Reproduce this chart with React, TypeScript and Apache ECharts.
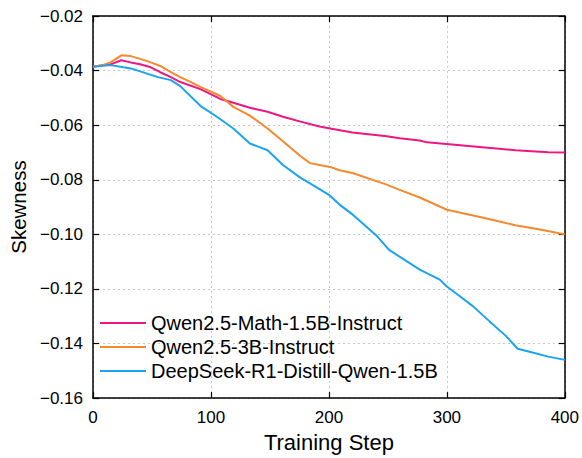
import React, { useEffect, useRef } from "react";
import * as echarts from "echarts";

const seriesNames = [
  "Qwen2.5-Math-1.5B-Instruct",
  "Qwen2.5-3B-Instruct",
  "DeepSeek-R1-Distill-Qwen-1.5B",
];

const mathData: [number, number][] = [
  [0, -0.0386], [8, -0.038], [15, -0.0377], [24, -0.0362], [32, -0.037],
  [40, -0.0377], [49, -0.0388], [57, -0.0406], [66, -0.0424], [74, -0.0442],
  [91, -0.0468], [108, -0.0504], [119, -0.0518], [133, -0.0536], [148, -0.0551],
  [161, -0.0569], [176, -0.0587], [192, -0.0605], [201, -0.0612], [220, -0.0627],
  [249, -0.0641], [260, -0.0648], [277, -0.0656], [283, -0.0663], [302, -0.067],
  [330, -0.0681], [358, -0.0692], [386, -0.0699], [400, -0.07],
];

const qwen3bData: [number, number][] = [
  [0, -0.0386], [8, -0.038], [15, -0.037], [24, -0.0344], [32, -0.0347],
  [40, -0.0357], [49, -0.037], [57, -0.0383], [66, -0.0406], [74, -0.0424],
  [83, -0.0442], [91, -0.046], [108, -0.0493], [119, -0.0533], [133, -0.0565],
  [148, -0.0612], [161, -0.0659], [176, -0.0714], [184, -0.0739], [192, -0.0746],
  [201, -0.0753], [209, -0.0765], [220, -0.0775], [249, -0.0818], [260, -0.0837],
  [277, -0.0865], [300, -0.091], [330, -0.0938], [358, -0.0967], [378, -0.0981],
  [395, -0.0996], [400, -0.1],
];

const distillData: [number, number][] = [
  [0, -0.0386], [15, -0.038], [32, -0.0392], [40, -0.0403], [55, -0.0424],
  [66, -0.0435], [74, -0.0457], [91, -0.0529], [105, -0.0569], [119, -0.0612],
  [133, -0.0667], [148, -0.0692], [161, -0.0746], [176, -0.0793], [190, -0.0829],
  [200, -0.0855], [209, -0.0891], [220, -0.0927], [240, -0.1003], [251, -0.1057],
  [277, -0.1129], [294, -0.1166], [300, -0.1191], [311, -0.1227], [322, -0.1263],
  [336, -0.1318], [350, -0.1372], [360, -0.1419], [370, -0.143], [386, -0.1448],
  [400, -0.146],
];

const colors = ["#EE1683", "#F5892F", "#1AA3F2"];
const FONT = "'Liberation Sans', Arial, Helvetica, sans-serif";

export default function App() {
  const ref = useRef<HTMLDivElement>(null);
  useEffect(() => {
    if (!ref.current) return;
    const chart = echarts.init(ref.current, null, { renderer: "svg" });
    const tickStyle = { show: true, inside: true, length: 6, lineStyle: { color: "#000", width: 1.2 } };
    const axisLine = { show: true, onZero: false, lineStyle: { color: "#000", width: 1.5 } };
    const splitLine = { show: true, lineStyle: { color: "#c8c8c8", type: [2, 3] as any, width: 1 } };
    const fmtY = (v: number) => v.toFixed(2).replace("-", "\u2212");
    chart.setOption({
      animation: false,
      textStyle: { fontFamily: FONT },
      grid: { left: 92, right: 16, top: 16, bottom: 55, containLabel: false },
      legend: {
        orient: "vertical",
        left: 100,
        top: 311,
        padding: 0,
        icon: "rect",
        itemWidth: 46,
        itemHeight: 2,
        itemGap: 0,
        data: seriesNames,
        textStyle: { fontSize: 20, color: "#000", fontFamily: FONT, lineHeight: 24 },
      },
      xAxis: [
        {
          type: "value", min: 0, max: 400, interval: 100, position: "bottom",
          axisLine, axisTick: tickStyle, splitLine,
          axisLabel: { fontSize: 17, color: "#000", margin: 11, fontFamily: FONT },
          name: "Training Step", nameLocation: "middle", nameGap: 32,
          nameTextStyle: { fontSize: 22, color: "#000", fontFamily: FONT },
        },
        {
          type: "value", min: 0, max: 400, interval: 100, position: "top",
          axisLine, axisTick: tickStyle, splitLine: { show: false }, axisLabel: { show: false },
        },
      ],
      yAxis: [
        {
          type: "value", min: -0.16, max: -0.02, interval: 0.02, position: "left",
          axisLine, axisTick: tickStyle, splitLine,
          axisLabel: { fontSize: 17, color: "#000", margin: 10, formatter: fmtY, fontFamily: FONT },
          name: "Skewness", nameLocation: "middle", nameGap: 64,
          nameTextStyle: { fontSize: 20.5, color: "#000", fontFamily: FONT },
        },
        {
          type: "value", min: -0.16, max: -0.02, interval: 0.02, position: "right",
          axisLine, axisTick: tickStyle, splitLine: { show: false }, axisLabel: { show: false },
        },
      ],
      series: [
        { name: seriesNames[0], type: "line", data: mathData, showSymbol: false, symbol: "none", color: colors[0], lineStyle: { width: 2, color: colors[0] } },
        { name: seriesNames[1], type: "line", data: qwen3bData, showSymbol: false, symbol: "none", color: colors[1], lineStyle: { width: 2, color: colors[1] } },
        { name: seriesNames[2], type: "line", data: distillData, showSymbol: false, symbol: "none", color: colors[2], lineStyle: { width: 2, color: colors[2] } },
      ],
    });
    return () => chart.dispose();
  }, []);
  return (
    <div
      ref={ref}
      style={{ position: "absolute", left: 0, top: 0, width: 582, height: 458, background: "#fff" }}
    />
  );
}
